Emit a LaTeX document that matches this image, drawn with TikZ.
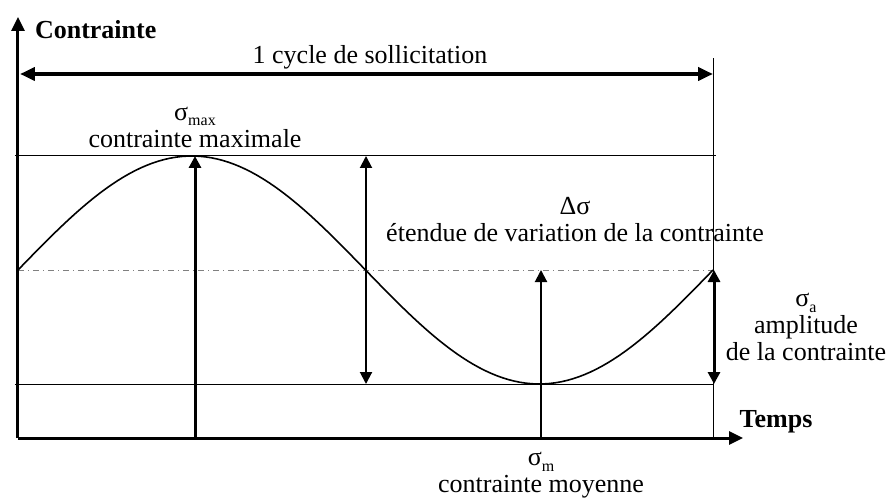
\documentclass[tikz,border=0pt]{standalone}
\usepackage{fontspec}
\setmainfont{Liberation Serif}
\usetikzlibrary{arrows.meta, positioning}

\newcommand{\sig}[1]{σ\raisebox{-0.5ex}{\fontsize{8}{9}\selectfont #1}}

\begin{document}
\begin{tikzpicture}[x=0.5pt, y=0.5pt, font=\fontsize{13}{13.5}\selectfont,
  axis/.style={line width=1.5pt, -{Triangle[length=7pt,width=6.5pt]}},
  cyclearrow/.style={line width=2pt, {Triangle[length=7.5pt,width=6.5pt]}-{Triangle[length=7.5pt,width=6.5pt]}},
  bigarrow/.style={line width=1.5pt, -{Triangle[length=6pt,width=6pt]}},
  midarrow/.style={line width=1pt, -{Triangle[length=6pt,width=6pt]}},
  thinline/.style={line width=0.5pt},
  meanline/.style={line width=0.5pt, gray, dash dot},
  label/.style={align=center}]
  \useasboundingbox (-18,-60) rectangle (868,438);
  % reference levels
  \coordinate (O) at (0,0);
  \draw[thinline] (-3,282) -- (698,282);
  \draw[meanline] (0,168) -- (695,168);
  \draw[thinline] (-3,54) -- (695,54);
  \draw[thinline] (695,0) -- (695,380);
  % signal
  \draw[line width=0.8pt] plot[domain=0:695, samples=120] (\x, {168+114*sin(\x/695*360)});
  % axes
  \draw[axis] (O) -- (0,421);
  \draw[axis] (O) -- (725,0);
  \node[anchor=west] (ylab) at (10,408) {\textbf{Contrainte}};
  \node (xlab) at (758,16) {\textbf{Temps}};
  % cycle
  \draw[cyclearrow] (2,364) -- (695,364);
  \node (cycle) at (352,381) {1 cycle de sollicitation};
  % quantities
  \draw[bigarrow] (177,0) -- (177,282);
  \node[label] (smax) at (177,311) {\sig{max}\\contrainte maximale};
  \draw[midarrow, {Triangle[length=6pt,width=6pt]}-{Triangle[length=6pt,width=6pt]}] (348,282) -- (348,54);
  \node[label] (dsig) at (557,218) {Δσ\\étendue de variation de la contrainte};
  \draw[midarrow] (523,0) -- (523,168);
  \node[label] (sm) at (523,-37) {\sig{m}\\contrainte moyenne};
  \draw[bigarrow, {Triangle[length=6pt,width=6pt]}-{Triangle[length=6pt,width=6pt]}] (696,168) -- (696,54);
  \node[label] (sa) at (788,111) {\sig{a}\\amplitude\\de la contrainte};
\end{tikzpicture}
\end{document}
